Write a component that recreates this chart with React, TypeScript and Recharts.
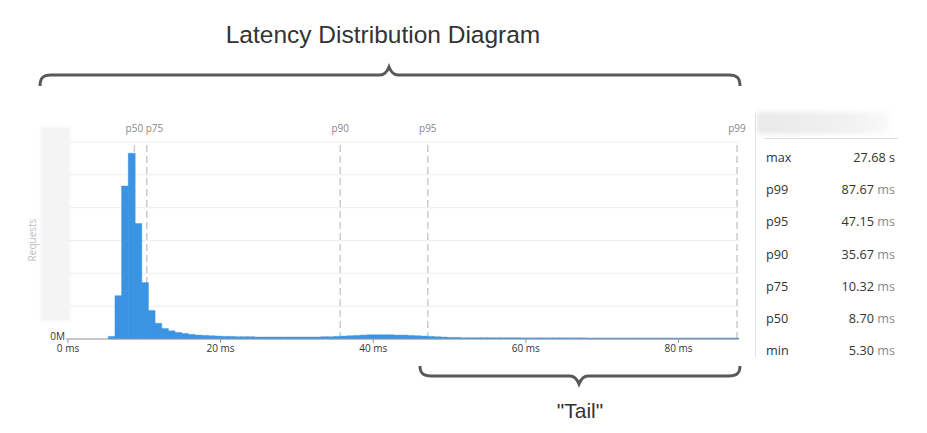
import React from 'react';
import { Bar, BarChart, CartesianGrid, ReferenceLine, XAxis, YAxis } from 'recharts';

// histogram bins (ms), regular width
const BIN_START = 5.28;
const BIN_WIDTH = 0.87;

// requests per bin, in millions
const REQUESTS = [
  0.08, 1.32, 4.66, 5.66, 3.52, 1.72, 0.87, 0.48, 0.32, 0.25,
  0.2, 0.17, 0.14, 0.12, 0.11, 0.1, 0.09, 0.08, 0.08, 0.07,
  0.07, 0.07, 0.06, 0.06, 0.06, 0.06, 0.06, 0.06, 0.06, 0.06,
  0.06, 0.06, 0.07, 0.07, 0.08, 0.09, 0.1, 0.11, 0.12, 0.13,
  0.13, 0.13, 0.13, 0.12, 0.12, 0.11, 0.1, 0.09, 0.08, 0.07,
  0.06, 0.05, 0.05, 0.04, 0.04, 0.04, 0.04, 0.04, 0.04, 0.04,
  0.04, 0.04, 0.035, 0.035, 0.035, 0.035, 0.035, 0.035, 0.035, 0.035,
  0.035, 0.035, 0.03, 0.03, 0.03, 0.03, 0.03, 0.03, 0.03, 0.03,
  0.03, 0.03, 0.03, 0.03, 0.03, 0.03, 0.03, 0.03, 0.03, 0.03,
  0.03, 0.03, 0.03, 0.03, 0.03
];

const X_TICKS = [0, 20, 40, 60, 80];
const Y_TICKS = [0, 1, 2, 3, 4, 5, 6];
const X_MAX = 87.93;

const MARKER_NAMES = ['p99', 'p95', 'p90', 'p75', 'p50'];
const MARKER_MS = [87.67, 47.15, 35.67, 10.32, 8.7];

const STAT_NAMES = ['max', 'p99', 'p95', 'p90', 'p75', 'p50', 'min'];
const STAT_VALUES = ['27.68', '87.67', '47.15', '35.67', '10.32', '8.70', '5.30'];
const STAT_UNITS = ['s', 'ms', 'ms', 'ms', 'ms', 'ms', 'ms'];

const data = REQUESTS.map((requests, i) => ({
  ms: BIN_START + BIN_WIDTH * (i + 0.5),
  requests
}));

const FONT = '"Open Sans", sans-serif';
const BAR_BLUE = '#3b94e3';

function YTick(props: any) {
  const { x, y, payload } = props;
  if (payload.value !== 0) return null;
  return (
    <g>
      <text x={x + 5} y={y + 1} textAnchor="end" fontSize={10} fill="#333" fontFamily={FONT}>
        0M
      </text>
      <line x1={x + 6} y1={y} x2={x + 8} y2={y} stroke="#999" />
    </g>
  );
}

// p75 sits right next to p50, so its label is nudged to the right of its line
function markerLabel(text: string) {
  return (props: any) => {
    const vb = props.viewBox || {};
    const cx = vb.x;
    const top = vb.y;
    const shifted = text === 'p75';
    return (
      <text
        x={shifted ? cx - 1 : cx}
        y={top - 10}
        textAnchor={shifted ? 'start' : 'middle'}
        fontSize={10}
        fill="#888"
        fontFamily={FONT}
      >
        {text}
      </text>
    );
  };
}

function LatencyChart() {
  return (
    <BarChart
      width={927}
      height={433}
      data={data}
      margin={{ top: 142, right: 188, bottom: 64, left: 0 }}
      barCategoryGap={0}
      barGap={0}
    >
      <CartesianGrid vertical={false} stroke="#eeeeee" />
      <XAxis
        dataKey="ms"
        type="number"
        domain={[0, X_MAX]}
        ticks={X_TICKS}
        allowDataOverflow
        height={30}
        stroke="#999"
        tickSize={4}
        tick={{ fontSize: 10, fill: '#333', fontFamily: FONT }}
        tickFormatter={(v: number) => `${v} ms`}
      />
      <YAxis
        domain={[0, 6]}
        ticks={Y_TICKS}
        width={68}
        axisLine={false}
        tickLine={false}
        tick={<YTick />}
      />
      {MARKER_NAMES.map((name, i) => (
        <ReferenceLine
          key={name}
          x={MARKER_MS[i]}
          stroke="#cccccc"
          strokeWidth={1.5}
          strokeDasharray="7 4"
          ifOverflow="visible"
          zIndex={-50}
          label={markerLabel(name)}
        />
      ))}
      <Bar dataKey="requests" fill={BAR_BLUE} stroke={BAR_BLUE} strokeWidth={0.4} isAnimationActive={false} />
    </BarChart>
  );
}

function StatsPanel() {
  return (
    <>
      <div style={{ position: 'absolute', left: 755, top: 113, width: 1, height: 244, background: '#e3e3e3' }} />
      <div
        style={{
          position: 'absolute',
          left: 757,
          top: 112,
          width: 133,
          height: 22,
          background: 'linear-gradient(90deg, #e9e9e9, #f1f1f1 70%, #fafafa)',
          filter: 'blur(2px)'
        }}
      />
      <div style={{ position: 'absolute', left: 764, top: 138, width: 134, height: 1, background: '#dddddd' }} />
      {STAT_NAMES.map((name, i) => (
        <div
          key={name}
          style={{
            position: 'absolute',
            left: 766,
            top: 157 + i * 32.2 - 9,
            width: 129,
            height: 18,
            display: 'flex',
            justifyContent: 'space-between',
            alignItems: 'center',
            fontFamily: FONT,
            fontSize: 12.7,
            color: '#333'
          }}
        >
          <span>{name}</span>
          <span>
            {STAT_VALUES[i]}{' '}
            <span style={{ color: STAT_UNITS[i] === 'ms' ? '#888' : '#333' }}>{STAT_UNITS[i]}</span>
          </span>
        </div>
      ))}
    </>
  );
}

function Annotations() {
  return (
    <svg width={927} height={433} style={{ position: 'absolute', left: 0, top: 0, pointerEvents: 'none' }}>
      <text
        x={383}
        y={43}
        textAnchor="middle"
        fontSize={24.5}
        fill="#333"
        fontFamily='"Liberation Sans", Arial, sans-serif'
      >
        Latency Distribution Diagram
      </text>
      <path
        d="M 40 86 C 40 78, 43 75, 51 75 L 380 75 C 385 75, 387 72, 389 67 C 391 72, 393 75, 398 75 L 729 75 C 737 75, 740 78, 740 86"
        fill="none"
        stroke="#595959"
        strokeWidth={3}
      />
      <path
        d="M 420 366 C 420 373, 423 376, 431 376 L 570 376 C 575 376, 577 379, 579 384 C 581 379, 583 376, 588 376 L 729 376 C 737 376, 740 373, 740 366"
        fill="none"
        stroke="#595959"
        strokeWidth={3}
      />
      <text
        x={580}
        y={418}
        textAnchor="middle"
        fontSize={21}
        fill="#333"
        fontFamily='"Liberation Sans", Arial, sans-serif'
      >
        "Tail"
      </text>
      <rect x={41} y={127} width={29} height={194} fill="#f4f4f4" style={{ filter: 'blur(1.5px)' }} />
      <text
        x={36}
        y={240}
        textAnchor="middle"
        fontSize={10}
        fill="#bbb"
        fontFamily={FONT}
        transform="rotate(-90 36 240)"
      >
        Requests
      </text>
    </svg>
  );
}

export default function App() {
  return (
    <div style={{ position: 'absolute', left: 0, top: 0, width: 927, height: 433, background: '#fff' }}>
      <div style={{ position: 'absolute', left: 0, top: 0 }}>
        <LatencyChart />
      </div>
      <Annotations />
      <StatsPanel />
    </div>
  );
}
